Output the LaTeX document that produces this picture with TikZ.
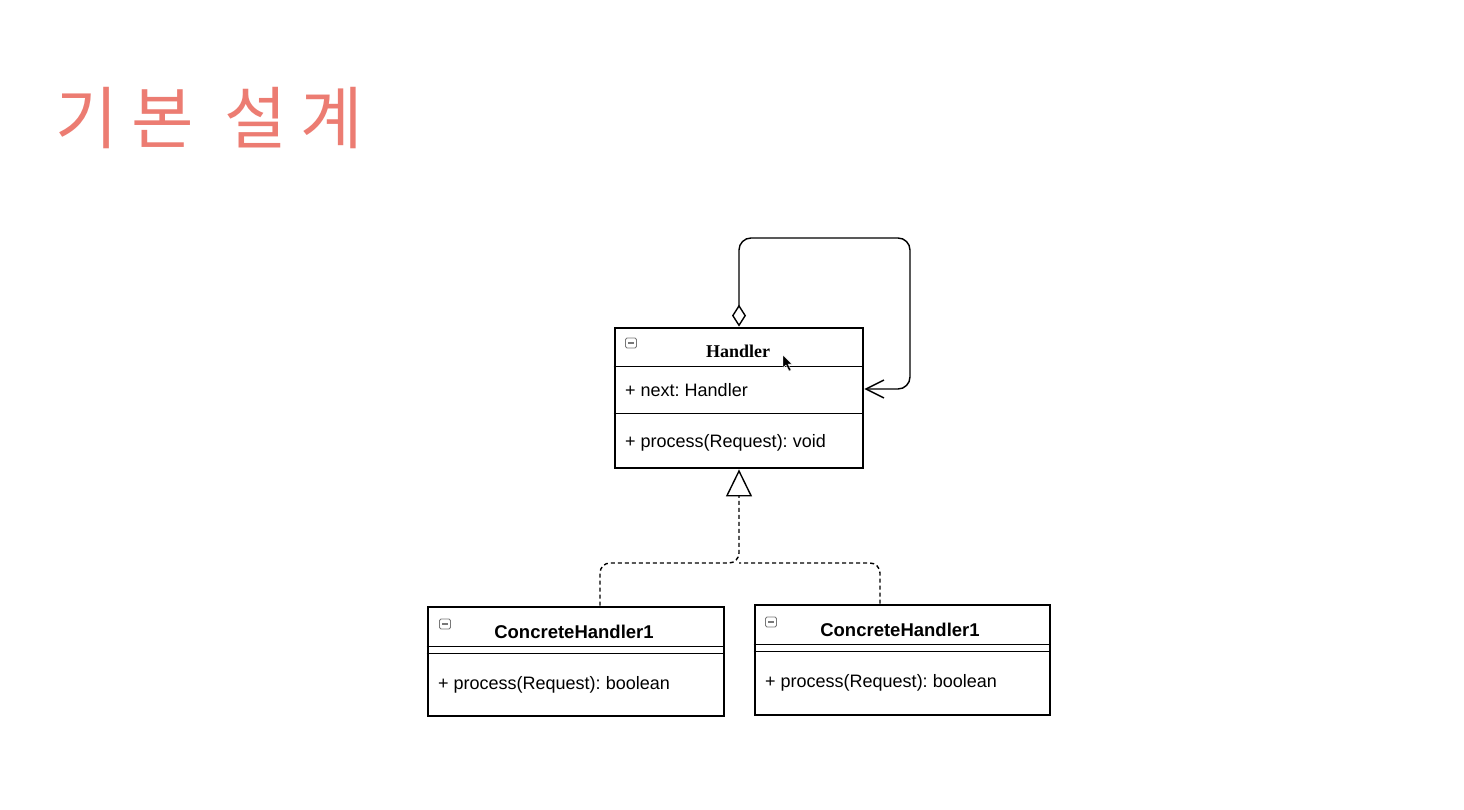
\documentclass[tikz,border=0pt]{standalone}
\usepackage{fontspec}
\setmainfont{Liberation Sans}
\newfontfamily\krfont[LetterSpace=21]{Noto Sans CJK KR}
\newfontfamily\serifb{Liberation Serif}
\usetikzlibrary{arrows.meta}
\definecolor{titlecol}{RGB}{236,124,114}
\definecolor{icongray}{RGB}{120,120,120}
\frenchspacing
\begin{document}
\begin{tikzpicture}[x=1pt,y=-1pt,
  umlbox/.style={draw, line width=2.8pt, inner sep=0pt},
  sepline/.style={line width=1.6pt},
  bodytxt/.style={inner sep=0pt, font=\fontsize{18}{21}\selectfont},
  headtxt/.style={inner sep=0pt, font=\fontsize{18.5}{21}\selectfont\bfseries},
  icon/.style={draw=icongray, line width=0.8pt, rounded corners=1.5pt, minimum width=11pt, minimum height=10pt, inner sep=0pt,
    path picture={\draw[icongray, line width=1.2pt] ([xshift=2.5pt]path picture bounding box.west) -- ([xshift=-2.5pt]path picture bounding box.east);}},
  assoc/.style={line width=1.4pt, rounded corners=12pt},
  realize/.style={line width=1.4pt, dash pattern=on 4pt off 3pt, rounded corners=10pt}
]
\useasboundingbox[fill=white] (0,0) rectangle (1464,810);

% title
\node[inner sep=0pt, anchor=base west, text=titlecol, font=\fontsize{68}{72}\selectfont\krfont] (title) at (55,144) {기본 설계};

% boxes
\node[umlbox, minimum width=248pt, minimum height=140pt] (handler) at (739,398) {};
\node[umlbox, minimum width=296pt, minimum height=109pt] (ch1) at (576,661.5) {};
\node[umlbox, minimum width=295pt, minimum height=110pt] (ch2) at (902.5,660) {};

% separators
\draw[sepline] ([yshift=-40pt]handler.north west) -- ([yshift=-40pt]handler.north east);
\draw[sepline] ([yshift=-87pt]handler.north west) -- ([yshift=-87pt]handler.north east);
\draw[sepline] ([yshift=-41pt]ch1.north west) -- ([yshift=-41pt]ch1.north east);
\draw[sepline] ([yshift=-48pt]ch1.north west) -- ([yshift=-48pt]ch1.north east);
\draw[sepline] ([yshift=-41pt]ch2.north west) -- ([yshift=-41pt]ch2.north east);
\draw[sepline] ([yshift=-48pt]ch2.north west) -- ([yshift=-48pt]ch2.north east);

% icons
\node[icon] (ic0) at (631,343) {};
\node[icon] (ic1) at (445,624) {};
\node[icon] (ic2) at (771,622) {};

% texts
\node[inner sep=0pt, anchor=base, font=\fontsize{18}{21}\selectfont\serifb\bfseries] (handlerT) at (738,357) {Handler};
\node[bodytxt, anchor=base west] (hnext) at (625,396) {+ next: Handler};
\node[bodytxt, anchor=base west] (hproc) at (625,447) {+ process(Request): void};
\node[headtxt, anchor=base] (ch1T) at (574,638) {ConcreteHandler1};
\node[bodytxt, anchor=base west] (ch1P) at (438,689) {+ process(Request): boolean};
\node[headtxt, anchor=base] (ch2T) at (900,636) {ConcreteHandler1};
\node[bodytxt, anchor=base west] (ch2P) at (765,687) {+ process(Request): boolean};

% cursor
\fill[black, draw=white, line width=0.4pt] (783,355) -- (783,368) -- (786,365) -- (789,371) -- (791,370) -- (788,364) -- (792,364) -- cycle;

% self association
\coordinate (loopTR) at (910,238);
\coordinate (loopBR) at (910,389);
\draw[assoc, {Diamond[open, length=22pt, width=14pt]}-{Straight Barb[length=18pt, width=18pt]}]
  (handler.north) -- (handler.north |- loopTR) -- (loopTR) -- (loopBR) -- (handler.east |- loopBR);

% realization
\coordinate (g1) at (600,563);
\coordinate (g2) at (880,563);
\coordinate (gj) at (739,563);
\draw[realize, -{Triangle[open, length=27pt, width=26pt, line width=1.4pt, sep=0pt]}]
  (g1 |- ch1.north) -- (g1) -- (gj) -- (handler.south);
\draw[realize] (g2 |- ch2.north) -- (g2) -- (gj);
\end{tikzpicture}
\end{document}
